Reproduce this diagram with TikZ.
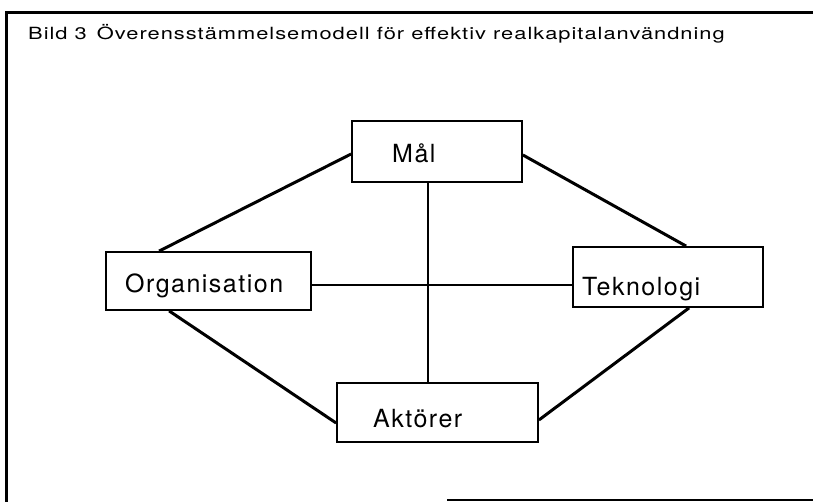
\documentclass[tikz,border=0pt]{standalone}
\usepackage{fontspec}
\setmainfont{TeX Gyre Heros}
\newfontfamily\boxfont[LetterSpace=6]{TeX Gyre Heros}
\newfontfamily\titlefont[LetterSpace=6,FakeStretch=1.3]{TeX Gyre Heros}
\usetikzlibrary{calc}
\begin{document}
\begin{tikzpicture}[x=1pt,y=-1pt,
  box/.style={draw,line width=1.8pt,inner sep=0pt},
  lbl/.style={inner sep=0pt,anchor=base west,font=\boxfont\fontsize{25}{30}\selectfont},
  thick link/.style={line width=3pt},
  thin link/.style={line width=1.4pt},
  frame/.style={line width=3pt}]
\useasboundingbox (0,0) rectangle (813,502);
% frame
\coordinate (fbl) at (6.5,503);
\coordinate (ftl) at (6.5,12.5);
\coordinate (ftr) at (814,12.5);
\coordinate (fbs) at (447,500);
\coordinate (fbe) at (814,500);
\draw[frame] (fbl) -- (ftl) -- (ftr);
\draw[line width=2pt] (fbs) -- (fbe);
% title
\node[inner sep=0pt,anchor=base west,font=\titlefont\fontsize{16.8}{20}\selectfont] (title) at (28,40)
  {Bild 3\hspace{0.6em}Överensstämmelsemodell för effektiv realkapitalanvändning};
% boxes
\node[box,minimum width=170pt,minimum height=61pt] (mal) at (437,151.5) {};
\node[box,minimum width=205pt,minimum height=58pt] (org) at (208.5,281) {};
\node[box,minimum width=190pt,minimum height=60pt] (tek) at (668,277) {};
\node[box,minimum width=201pt,minimum height=59pt] (akt) at (437.5,412.5) {};
% labels
\node[lbl] (tmal) at (392,163) {Mål};
\node[lbl] (torg) at (125,293) {Organisation};
\node[lbl] (ttek) at (582,295) {Teknologi};
\node[lbl] (takt) at (373,427) {Aktörer};
% connectors
\draw[thick link] ([yshift=-2.5pt]mal.west) -- ([xshift=54pt]org.north west);
\draw[thick link] ([yshift=-3.5pt]mal.east) -- ([xshift=114pt]tek.north west);
\draw[thick link] ([xshift=64pt]org.south west) -- ([yshift=-10.5pt]akt.west);
\draw[thick link] ([xshift=117pt]tek.south west) -- ([yshift=-7.5pt]akt.east);
\draw[thin link] ([xshift=-9pt]mal.south) -- ([xshift=-9.5pt]akt.north);
\draw[thin link] ([yshift=-4pt]org.east) -- ([yshift=-8pt]tek.west);
\end{tikzpicture}
\end{document}
